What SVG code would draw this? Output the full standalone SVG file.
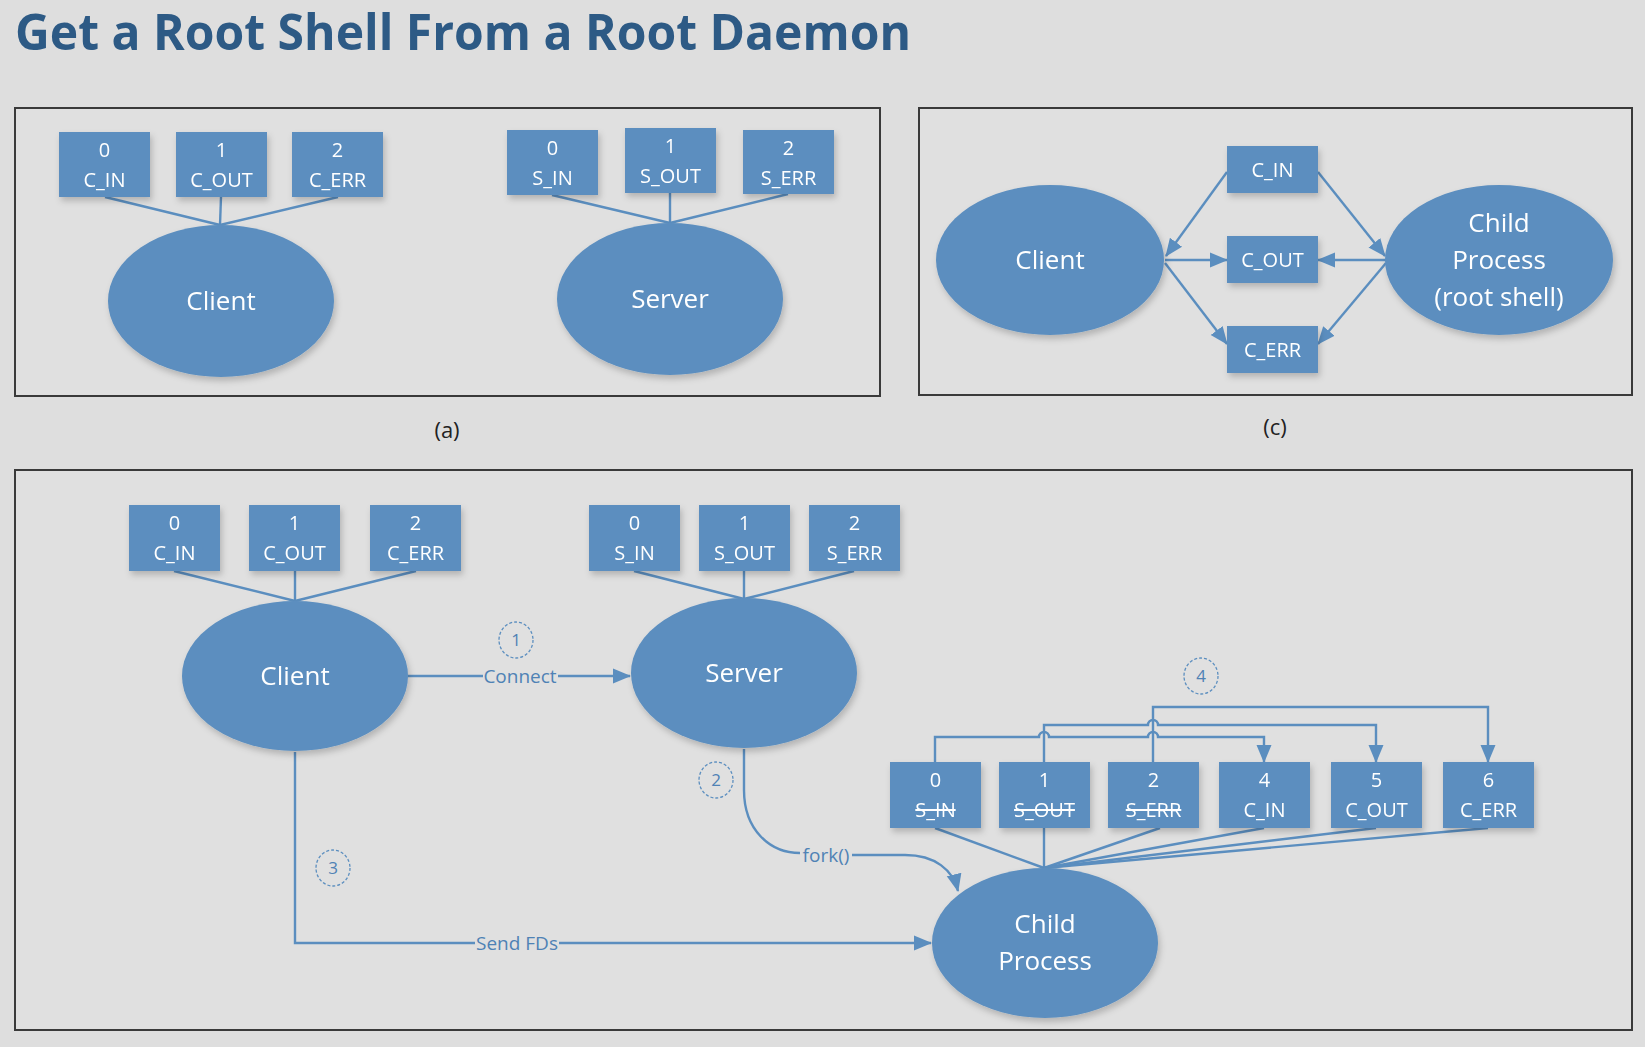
<svg xmlns="http://www.w3.org/2000/svg" width="1645" height="1047" viewBox="0 0 1645 1047">
<defs>
<style>
.bg{fill:#dedede}
.panel{fill:#e0e0e0;stroke:#3a3a3a;stroke-width:2}
.box{fill:#5b8ebf}
.ell{fill:#5b8ebf}
.bt{font-family:"Open Sans","Liberation Sans",sans-serif;font-size:20px;fill:#ffffff;text-anchor:middle}
.et{font-family:"Open Sans","Liberation Sans",sans-serif;font-size:26px;fill:#ffffff;text-anchor:middle}
.ln{stroke:#5b8ebf;stroke-width:2.4;fill:none}
.lbl{font-family:"Open Sans","Liberation Sans",sans-serif;font-size:19px;fill:#4f82b5;text-anchor:middle}
.num{font-family:"Open Sans","Liberation Sans",sans-serif;font-size:17px;fill:#4f82b5;text-anchor:middle}
.dc{fill:none;stroke:#5b8ebf;stroke-width:1.3;stroke-dasharray:3 2}
.cap{font-family:"Open Sans","Liberation Sans",sans-serif;font-size:22px;fill:#222;text-anchor:middle}
.strike{text-decoration:line-through}
</style>
<filter id="sh" x="-20%" y="-20%" width="140%" height="150%">
<feDropShadow dx="2" dy="4" stdDeviation="3" flood-color="#000" flood-opacity="0.2"/>
</filter>
<marker id="ar" markerUnits="userSpaceOnUse" markerWidth="18" markerHeight="18" viewBox="0 0 18 18" refX="17" refY="9" orient="auto">
<path d="M0,1.5 L18,9 L0,16.5 Z" fill="#5b8ebf"/>
</marker>
</defs>
<rect class="bg" x="0" y="0" width="1645" height="1047"/>
<text x="15" y="50" font-family="'Open Sans','Liberation Sans',sans-serif" font-weight="bold" font-size="50" fill="#2d5a85" textLength="896" lengthAdjust="spacingAndGlyphs">Get a Root Shell From a Root Daemon</text>

<rect class="panel" x="15" y="108" width="865" height="288"/>
<rect class="panel" x="919" y="108" width="713" height="287"/>
<rect class="panel" x="15" y="470" width="1617" height="560"/>
<text class="cap" x="447" y="438">(a)</text>
<text class="cap" x="1275" y="435">(c)</text>

<g id="connectors">
<line class="ln" x1="105" y1="197" x2="220" y2="225"/>
<line class="ln" x1="221" y1="197" x2="220" y2="225"/>
<line class="ln" x1="338" y1="197" x2="220" y2="225"/>
<line class="ln" x1="552" y1="195" x2="670" y2="223"/>
<line class="ln" x1="670" y1="193" x2="670" y2="223"/>
<line class="ln" x1="788" y1="194" x2="670" y2="223"/>
<line class="ln" x1="1227" y1="172" x2="1166" y2="256" marker-end="url(#ar)"/>
<line class="ln" x1="1165" y1="260" x2="1227" y2="260" marker-end="url(#ar)"/>
<line class="ln" x1="1165" y1="263" x2="1227" y2="344" marker-end="url(#ar)"/>
<line class="ln" x1="1318" y1="172" x2="1385" y2="256" marker-end="url(#ar)"/>
<line class="ln" x1="1386" y1="260" x2="1318" y2="260" marker-end="url(#ar)"/>
<line class="ln" x1="1386" y1="263" x2="1318" y2="344" marker-end="url(#ar)"/>
<line class="ln" x1="174" y1="571" x2="295" y2="601"/>
<line class="ln" x1="295" y1="571" x2="295" y2="601"/>
<line class="ln" x1="416" y1="571" x2="295" y2="601"/>
<line class="ln" x1="634" y1="571" x2="744" y2="599"/>
<line class="ln" x1="744" y1="571" x2="744" y2="599"/>
<line class="ln" x1="854" y1="571" x2="744" y2="599"/>
<line class="ln" x1="408" y1="676" x2="630" y2="676" marker-end="url(#ar)"/>
<path class="ln" d="M295,752 V943 H931" marker-end="url(#ar)"/>
<path class="ln" d="M744,749 V790 C744,830 770,853 800,853"/>
<path class="ln" d="M852,855 H905 C935,855 953,870 958,891" marker-end="url(#ar)"/>
<line class="ln" x1="935" y1="828" x2="1044" y2="868"/>
<line class="ln" x1="1044" y1="828" x2="1044" y2="868"/>
<line class="ln" x1="1160" y1="828" x2="1044" y2="868"/>
<line class="ln" x1="1264" y1="828" x2="1044" y2="868"/>
<line class="ln" x1="1376" y1="828" x2="1044" y2="868"/>
<line class="ln" x1="1488" y1="828" x2="1044" y2="868"/>
<path class="ln" d="M935,762 V737 H1039 a5,5 0 0 1 10,0 H1148 a5,5 0 0 1 10,0 H1264 V762" marker-end="url(#ar)"/>
<path class="ln" d="M1044,762 V725 H1148 a5,5 0 0 1 10,0 H1376 V762" marker-end="url(#ar)"/>
<path class="ln" d="M1153,762 V707 H1488 V762" marker-end="url(#ar)"/>
</g>

<g id="labels">
<rect x="483" y="664" width="75" height="24" fill="#e0e0e0"/>
<text class="lbl" x="520" y="683">Connect</text>
<rect x="475" y="931" width="84" height="24" fill="#e0e0e0"/>
<text class="lbl" x="517" y="950">Send FDs</text>
<rect x="802" y="843" width="48" height="24" fill="#e0e0e0"/>
<text class="lbl" x="826" y="862">fork()</text>
<ellipse class="dc" cx="516" cy="640" rx="17" ry="18"/>
<text class="num" x="516" y="646">1</text>
<ellipse class="dc" cx="716" cy="780" rx="17" ry="18"/>
<text class="num" x="716" y="786">2</text>
<ellipse class="dc" cx="333" cy="868" rx="17" ry="18"/>
<text class="num" x="333" y="874">3</text>
<ellipse class="dc" cx="1201" cy="676" rx="17" ry="18"/>
<text class="num" x="1201" y="682">4</text>
</g>

<g id="a-c-in" filter="url(#sh)"><rect class="box" x="59" y="132" width="91" height="65"/><text class="bt" x="104.5" y="157">0</text><text class="bt" x="104.5" y="187">C_IN</text></g>
<g id="a-c-out" filter="url(#sh)"><rect class="box" x="176" y="132" width="91" height="65"/><text class="bt" x="221.5" y="157">1</text><text class="bt" x="221.5" y="187">C_OUT</text></g>
<g id="a-c-err" filter="url(#sh)"><rect class="box" x="292" y="132" width="91" height="65"/><text class="bt" x="337.5" y="157">2</text><text class="bt" x="337.5" y="187">C_ERR</text></g>
<g id="a-client" filter="url(#sh)"><ellipse class="ell" cx="221" cy="301" rx="113" ry="76"/><text class="et" x="221" y="310">Client</text></g>
<g id="a-s-in" filter="url(#sh)"><rect class="box" x="507" y="130" width="91" height="65"/><text class="bt" x="552.5" y="155">0</text><text class="bt" x="552.5" y="185">S_IN</text></g>
<g id="a-s-out" filter="url(#sh)"><rect class="box" x="625" y="128" width="91" height="65"/><text class="bt" x="670.5" y="153">1</text><text class="bt" x="670.5" y="183">S_OUT</text></g>
<g id="a-s-err" filter="url(#sh)"><rect class="box" x="743" y="130" width="91" height="64"/><text class="bt" x="788.5" y="155">2</text><text class="bt" x="788.5" y="185">S_ERR</text></g>
<g id="a-server" filter="url(#sh)"><ellipse class="ell" cx="670" cy="299" rx="113" ry="76"/><text class="et" x="670" y="308">Server</text></g>

<g id="c-client" filter="url(#sh)"><ellipse class="ell" cx="1050" cy="260" rx="114" ry="75"/><text class="et" x="1050" y="269">Client</text></g>
<g id="c-child" filter="url(#sh)"><ellipse class="ell" cx="1499" cy="260" rx="114" ry="75"/><text class="et" x="1499" y="232">Child</text><text class="et" x="1499" y="269">Process</text><text class="et" x="1499" y="306">(root shell)</text></g>
<g id="c-c-in" filter="url(#sh)"><rect class="box" x="1227" y="146" width="91" height="47"/><text class="bt" x="1272.5" y="177">C_IN</text></g>
<g id="c-c-out" filter="url(#sh)"><rect class="box" x="1227" y="236" width="91" height="47"/><text class="bt" x="1272.5" y="267">C_OUT</text></g>
<g id="c-c-err" filter="url(#sh)"><rect class="box" x="1227" y="326" width="91" height="47"/><text class="bt" x="1272.5" y="357">C_ERR</text></g>

<g id="b-c-in" filter="url(#sh)"><rect class="box" x="129" y="505" width="91" height="66"/><text class="bt" x="174.5" y="530">0</text><text class="bt" x="174.5" y="560">C_IN</text></g>
<g id="b-c-out" filter="url(#sh)"><rect class="box" x="249" y="505" width="91" height="66"/><text class="bt" x="294.5" y="530">1</text><text class="bt" x="294.5" y="560">C_OUT</text></g>
<g id="b-c-err" filter="url(#sh)"><rect class="box" x="370" y="505" width="91" height="66"/><text class="bt" x="415.5" y="530">2</text><text class="bt" x="415.5" y="560">C_ERR</text></g>
<g id="b-client" filter="url(#sh)"><ellipse class="ell" cx="295" cy="676" rx="113" ry="75"/><text class="et" x="295" y="685">Client</text></g>
<g id="b-s-in" filter="url(#sh)"><rect class="box" x="589" y="505" width="91" height="66"/><text class="bt" x="634.5" y="530">0</text><text class="bt" x="634.5" y="560">S_IN</text></g>
<g id="b-s-out" filter="url(#sh)"><rect class="box" x="699" y="505" width="91" height="66"/><text class="bt" x="744.5" y="530">1</text><text class="bt" x="744.5" y="560">S_OUT</text></g>
<g id="b-s-err" filter="url(#sh)"><rect class="box" x="809" y="505" width="91" height="66"/><text class="bt" x="854.5" y="530">2</text><text class="bt" x="854.5" y="560">S_ERR</text></g>
<g id="b-server" filter="url(#sh)"><ellipse class="ell" cx="744" cy="673" rx="113" ry="75"/><text class="et" x="744" y="682">Server</text></g>
<g id="b-child" filter="url(#sh)"><ellipse class="ell" cx="1045" cy="943" rx="113" ry="75"/><text class="et" x="1045" y="933">Child</text><text class="et" x="1045" y="970">Process</text></g>
<g id="f0" filter="url(#sh)"><rect class="box" x="890" y="762" width="91" height="66"/><text class="bt" x="935.5" y="787">0</text><text class="bt strike" x="935.5" y="817">S_IN</text></g>
<g id="f1" filter="url(#sh)"><rect class="box" x="999" y="762" width="91" height="66"/><text class="bt" x="1044.5" y="787">1</text><text class="bt strike" x="1044.5" y="817">S_OUT</text></g>
<g id="f2" filter="url(#sh)"><rect class="box" x="1108" y="762" width="91" height="66"/><text class="bt" x="1153.5" y="787">2</text><text class="bt strike" x="1153.5" y="817">S_ERR</text></g>
<g id="f4" filter="url(#sh)"><rect class="box" x="1219" y="762" width="91" height="66"/><text class="bt" x="1264.5" y="787">4</text><text class="bt" x="1264.5" y="817">C_IN</text></g>
<g id="f5" filter="url(#sh)"><rect class="box" x="1331" y="762" width="91" height="66"/><text class="bt" x="1376.5" y="787">5</text><text class="bt" x="1376.5" y="817">C_OUT</text></g>
<g id="f6" filter="url(#sh)"><rect class="box" x="1443" y="762" width="91" height="66"/><text class="bt" x="1488.5" y="787">6</text><text class="bt" x="1488.5" y="817">C_ERR</text></g>
</svg>
